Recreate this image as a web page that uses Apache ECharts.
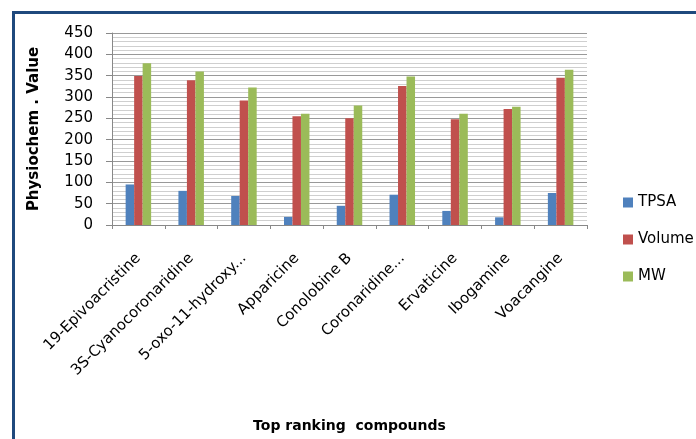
<!DOCTYPE html>
<html>
<head>
<meta charset="utf-8">
<script src="https://cdn.jsdelivr.net/npm/echarts@6/dist/echarts.min.js"></script>
<style>
  html, body { margin: 0; padding: 0; background: #fff; }
  #chart { width: 696px; height: 439px; }
</style>
</head>
<body>
<div id="chart"></div>
<script>
// compounds on the x axis
var compounds = ['19-Epivoacristine', '3S-Cyanocoronaridine', '5-oxo-11-hydroxy...', 'Apparicine',
  'Conolobine B', 'Coronaridine...', 'Ervaticine', 'Ibogamine', 'Voacangine'];
// series values
var tpsa = [95, 80, 68, 19, 45, 71, 33, 18, 75];
var volume = [349, 339, 292, 255, 250, 326, 248, 272, 345];
var mw = [379, 360, 322, 261, 280, 348, 261, 277, 364];
var seriesNames = ['TPSA', 'Volume', 'MW'];
var colors = ['#4F81BD', '#C0504D', '#9BBB59'];

var font = 'DejaVu Sans';
var myChart = echarts.init(document.getElementById('chart'));

myChart.setOption({
  animation: false,
  color: colors,
  textStyle: { fontFamily: font, color: '#000' },
  // dark blue frame on top and left
  graphic: [
    { type: 'rect', shape: { x: 12, y: 11, width: 684, height: 3 }, style: { fill: '#1F497D' } },
    { type: 'rect', shape: { x: 12, y: 11, width: 3, height: 428 }, style: { fill: '#1F497D' } }
  ],
  legend: {
    orient: 'vertical',
    left: 618,
    top: 190,
    itemWidth: 10,
    itemHeight: 10,
    itemGap: 22,
    icon: 'rect',
    textStyle: { fontFamily: font, fontSize: 15, color: '#000' },
    data: seriesNames
  },
  grid: { left: 112, right: 109, top: 33, bottom: 214 },
  xAxis: {
    type: 'category',
    data: compounds,
    name: 'Top ranking  compounds',
    nameLocation: 'middle',
    nameGap: 194,
    nameTextStyle: { fontFamily: font, fontSize: 14, fontWeight: 'bold', color: '#000' },
    axisLine: { lineStyle: { color: '#888' } },
    axisTick: { show: true, length: 4, lineStyle: { color: '#888' } },
    axisLabel: {
      rotate: 45,
      interval: 0,
      margin: 31,
      fontFamily: font,
      fontSize: 15,
      color: '#000'
    }
  },
  yAxis: {
    type: 'value',
    min: 0,
    max: 450,
    interval: 50,
    name: 'Physiochem . Value',
    nameLocation: 'middle',
    nameGap: 70,
    nameTextStyle: { fontFamily: font, fontSize: 15, fontWeight: 'bold', color: '#000' },
    axisLine: { show: true, lineStyle: { color: '#888' } },
    axisTick: { show: true, length: 6, lineStyle: { color: '#888' } },
    axisLabel: { fontFamily: font, fontSize: 15, color: '#000', margin: 19 },
    splitLine: { show: true, lineStyle: { color: '#999', width: 1 } },
    minorTick: { show: false, splitNumber: 5 },
    minorSplitLine: { show: true, lineStyle: { color: '#cfcfcf', width: 1 } }
  },
  series: [
    { name: seriesNames[0], type: 'bar', data: tpsa, barWidth: 8.5, barGap: '0%' },
    { name: seriesNames[1], type: 'bar', data: volume, barWidth: 8.5, barGap: '0%' },
    { name: seriesNames[2], type: 'bar', data: mw, barWidth: 8.5, barGap: '0%' }
  ]
});
</script>
</body>
</html>
